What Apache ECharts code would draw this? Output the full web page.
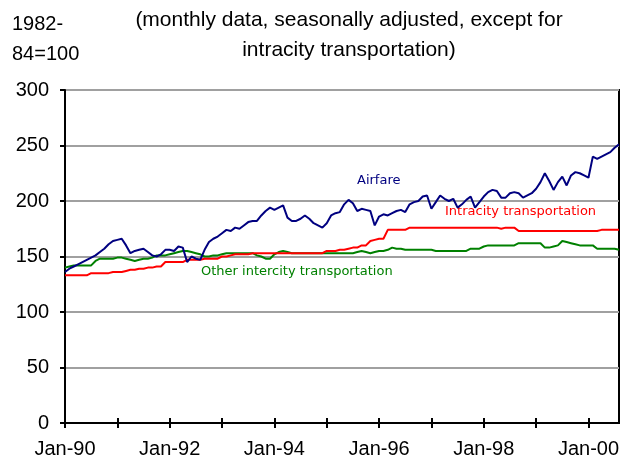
<!DOCTYPE html>
<html>
<head>
<meta charset="utf-8">
<script src="https://cdn.jsdelivr.net/npm/echarts@6/dist/echarts.min.js"></script>
<style>
  html, body { margin: 0; padding: 0; background: #fff; }
  #chart { width: 626px; height: 461px; }
</style>
</head>
<body>
<div id="chart"></div>
<script>
// monthly index values, Jan-90 .. Aug-00 (1982-84=100)
const airfare = [
    136, 139, 141, 143, 145, 147, 149, 151, 154, 157, 161, 164,
    165, 166, 160, 153, 155, 156, 157, 154, 151, 150, 152, 156,
    156, 155, 159, 158, 145, 150, 148, 147, 156, 163, 166, 168,
    171, 174, 173, 176, 175, 178, 181, 182, 182, 187, 191, 194,
    192, 194, 196, 185, 182, 182, 184, 187, 184, 180, 178, 176,
    180, 187, 189, 190, 197, 201, 198, 191, 193, 192, 191, 178,
    186, 188, 187, 189, 191, 192, 190, 197, 199, 200, 204, 205,
    193, 199, 205, 202, 200, 202, 194, 197, 201, 204, 194, 199,
    204, 208, 210, 209, 203, 203, 207, 208, 207, 203, 205, 207,
    211, 217, 225, 218, 210, 217, 222, 214, 223, 226, 225, 223,
    221, 240, 238, 240, 242, 244, 248, 251
];

const intracity = [
    133, 133, 133, 133, 133, 133, 135, 135, 135, 135, 135, 136,
    136, 136, 137, 138, 138, 139, 139, 140, 140, 141, 141, 145,
    145, 145, 145, 145, 147, 147, 147, 147, 148, 148, 148, 148,
    150, 150, 151, 152, 152, 152, 152, 153, 153, 153, 153, 153,
    153, 153, 153, 153, 153, 153, 153, 153, 153, 153, 153, 153,
    155, 155, 155, 156, 156, 157, 158, 158, 160, 160, 164, 165,
    166, 166, 174, 174, 174, 174, 174, 176, 176, 176, 176, 176,
    176, 176, 176, 176, 176, 176, 176, 176, 176, 176, 176, 176,
    176, 176, 176, 176, 175, 176, 176, 176, 173, 173, 173, 173,
    173, 173, 173, 173, 173, 173, 173, 173, 173, 173, 173, 173,
    173, 173, 173, 174, 174, 174, 174, 174
];

const otherIntercity = [
    140, 141, 142, 142, 142, 142, 142, 146, 148, 148, 148, 148,
    149, 149, 148, 147, 146, 147, 148, 148, 149, 151, 151, 151,
    152, 153, 154, 155, 155, 154, 153, 152, 150, 150, 151, 151,
    152, 153, 153, 153, 153, 153, 153, 153, 151, 150, 148, 148,
    152, 154, 155, 154, 153, 153, 153, 153, 153, 153, 153, 153,
    153, 153, 153, 153, 153, 153, 153, 154, 155, 154, 153, 154,
    155, 155, 156, 158, 157, 157, 156, 156, 156, 156, 156, 156,
    156, 155, 155, 155, 155, 155, 155, 155, 155, 157, 157, 157,
    159, 160, 160, 160, 160, 160, 160, 160, 162, 162, 162, 162,
    162, 162, 158, 158, 159, 160, 164, 163, 162, 161, 160, 160,
    160, 160, 157, 157, 157, 157, 157, 156
];

const monthNames = ["Jan", "Feb", "Mar", "Apr", "May", "Jun",
    "Jul", "Aug", "Sep", "Oct", "Nov", "Dec"];

// category labels like "Jan-90"
const months = [];
for (let i = 0; i < airfare.length; i++) {
    const yy = (90 + Math.floor(i / 12)) % 100;
    months.push(monthNames[i % 12] + "-" + String(yy).padStart(2, "0"));
}

const FONT = "Liberation Sans, Arial, sans-serif";
const LABEL_FONT = "13px DejaVu Sans, Verdana, sans-serif";

const chart = echarts.init(document.getElementById("chart"));

chart.setOption({
    animation: false,
    backgroundColor: "#fff",
    title: {
        text: "(monthly data, seasonally adjusted, except for\nintracity transportation)",
        left: 344,
        top: 0,
        textAlign: "center",
        textStyle: {
            fontFamily: FONT,
            fontSize: 21,
            fontWeight: "normal",
            color: "#000",
            lineHeight: 30
        }
    },
    grid: {
        left: 65,
        right: 7,
        top: 90,
        bottom: 38,
        show: true,
        borderColor: "#000",
        borderWidth: 2
    },
    xAxis: [
        {
            type: "category",
            data: months,
            boundaryGap: false,
            axisLine: { lineStyle: { color: "#000", width: 2 } },
            axisTick: {
                interval: 11,
                length: 5,
                lineStyle: { color: "#000", width: 2 }
            },
            axisLabel: {
                interval: 23,
                margin: 16,
                fontFamily: FONT,
                fontSize: 20,
                color: "#000"
            },
            splitLine: { show: false }
        },
        {
            // inner half of the crossing ticks
            type: "category",
            data: months,
            position: "bottom",
            boundaryGap: false,
            axisLine: { show: false },
            axisTick: {
                inside: true,
                interval: 11,
                length: 5,
                lineStyle: { color: "#000", width: 2 }
            },
            axisLabel: { show: false },
            splitLine: { show: false }
        }
    ],
    yAxis: {
        type: "value",
        min: 0,
        max: 300,
        interval: 50,
        axisLine: { show: true, lineStyle: { color: "#000", width: 2 } },
        axisTick: { show: true, length: 5, lineStyle: { color: "#000", width: 2 } },
        axisLabel: {
            margin: 16,
            fontFamily: FONT,
            fontSize: 20,
            color: "#000"
        },
        splitLine: { lineStyle: { color: "#a0a0a0", width: 2 } }
    },
    series: [
        {
            name: "Other intercity transportation",
            type: "line",
            data: otherIntercity,
            symbol: "none",
            lineStyle: { color: "#008000", width: 2 }
        },
        {
            name: "Intracity transportation",
            type: "line",
            data: intracity,
            symbol: "none",
            lineStyle: { color: "#ff0000", width: 2 }
        },
        {
            name: "Airfare",
            type: "line",
            data: airfare,
            symbol: "none",
            lineStyle: { color: "#000080", width: 2 }
        }
    ],
    graphic: [
        {
            type: "text",
            left: 12,
            top: 9,
            style: {
                text: "1982-\n84=100",
                font: "20px " + FONT,
                fill: "#000",
                lineHeight: 30
            }
        },
        {
            type: "text",
            left: 357,
            top: 174,
            style: {
                text: "Airfare",
                font: LABEL_FONT,
                fill: "#000080"
            }
        },
        {
            type: "text",
            left: 445,
            top: 205,
            style: {
                text: "Intracity transportation",
                font: LABEL_FONT,
                fill: "#ff0000"
            }
        },
        {
            type: "text",
            left: 201,
            top: 265,
            style: {
                text: "Other intercity transportation",
                font: LABEL_FONT,
                fill: "#008000"
            }
        }
    ]
});
</script>
</body>
</html>
